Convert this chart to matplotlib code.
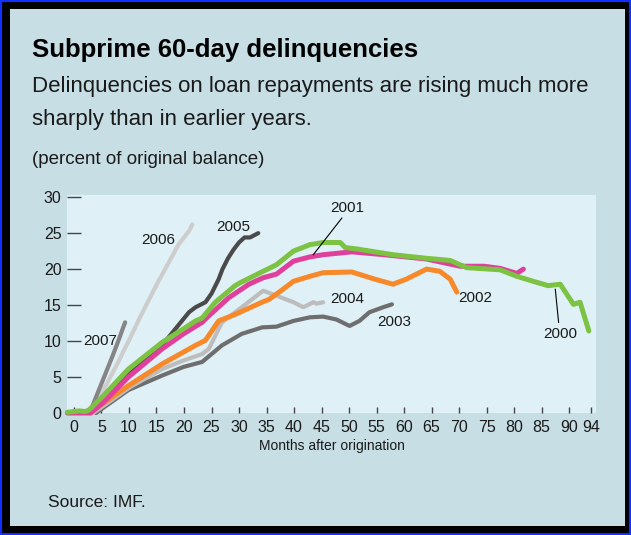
import matplotlib
matplotlib.use("Agg")
import matplotlib.pyplot as plt
from matplotlib.patches import Rectangle

plt.rcParams['font.family'] = ['Liberation Sans', 'DejaVu Sans']

# data (months after origination, percent of original balance)
m2000 = [-1.2, 0, 1, 2, 2.7, 5.1, 9.9, 16, 19.9, 22.1, 23.3, 25.7, 29.3, 30.2, 34.4, 36.8, 39.9,
         42.9, 45.3, 48.4, 49.3, 51.4, 58, 64.1, 68.4, 71.4, 77.5, 80.5, 83.5, 86.2, 88.4,
         89.6, 90.8, 92, 93.6]
v2000 = [0.1, 0.2, 0.3, 0.2, 0.4, 2.2, 6.1, 9.8, 11.7, 12.8, 13.2, 15.4, 17.7, 18.1, 19.7, 20.6, 22.5,
         23.4, 23.7, 23.7, 23.0, 22.8, 22.0, 21.5, 21.2, 20.2, 19.9, 19.0, 18.3, 17.7, 17.9,
         16.5, 15.1, 15.4, 11.4]

m2001 = [-1.2, 1, 3, 5.1, 9.9, 16, 19.9, 23.3, 24.5, 28.1, 31.8, 34.4, 36.8, 39.9, 42.9, 45.3, 50.5,
         56.4, 64.1, 70.2, 74.5, 77.5, 80.5, 81.7]
v2001 = [0.0, 0.0, 0.0, 1.3, 5.0, 8.9, 11.0, 12.6, 13.5, 16.0, 17.9, 18.8, 19.3, 21.1, 21.7, 22.0, 22.4,
         22.0, 21.4, 20.4, 20.4, 20.1, 19.4, 20.0]

m2002 = [3, 3.9, 9.9, 16, 22.1, 23.9, 26.3, 29.3, 34.2, 35.5, 38, 39.9, 42.9, 45.3, 50.5, 54.7,
         58, 60.4, 64.1, 66.5, 68.4, 69.6]
v2002 = [0.0, 0.6, 3.8, 6.8, 9.4, 10.1, 12.8, 13.7, 15.4, 15.8, 17.2, 18.3, 19.0, 19.5, 19.6, 18.6,
         17.9, 18.6, 20.0, 19.7, 18.6, 16.8]

m2003 = [4, 9.9, 16, 19.9, 23.3, 26.9, 30.5, 34.2, 36.8, 39.9, 42.9, 45.3, 47.7, 50.1, 51.9,
         53.7, 56.2, 57.8]
v2003 = [0.0, 3.2, 5.2, 6.4, 7.1, 9.4, 11.0, 11.9, 12.0, 12.8, 13.3, 13.4, 13.0, 12.1, 12.8,
         14.0, 14.7, 15.1]

m2004 = [3.5, 10.2, 16, 19.9, 23.3, 24.5, 26.9, 30.5, 33.2, 34.4, 36.8, 39.9, 41.7, 43.5, 44.1, 45.3]
v2004 = [0.0, 3.6, 6.1, 7.3, 8.2, 8.9, 12.6, 14.7, 16.3, 17.0, 16.3, 15.4, 14.7, 15.4, 15.2, 15.4]

m2005 = [3, 5, 9.9, 16, 20.9, 22.1, 23.9, 25, 26.3, 27, 28, 29, 30, 31, 32, 33, 33.5]
v2005 = [0.2, 1.8, 5.3, 9.4, 14.0, 14.7, 15.4, 16.6, 18.6, 20.0, 21.5, 22.7, 23.7, 24.4, 24.4,
         24.8, 25.0]

m2006 = [3, 4, 5, 6, 7, 8, 9, 10, 11, 12, 13, 14, 15, 16, 17, 18, 19, 20, 21, 21.5]
v2006 = [0.3, 1.5, 2.8, 4.1, 5.6, 7.0, 8.6, 10.1, 11.7, 13.3, 14.8, 16.3, 17.8, 19.2, 20.6, 22.0, 23.4,
         24.4, 25.4, 26.2]

m2007 = [3, 4, 5, 6, 7, 8, 9, 9.3]
v2007 = [0.3, 2.2, 4.1, 6.0, 7.9, 9.9, 12.0, 12.6]

xticks = [0, 5, 10, 15, 20, 25, 30, 35, 40, 45, 50, 55, 60, 65, 70, 75, 80, 85, 90, 94]
yticks = [0, 5, 10, 15, 20, 25, 30]
ytick_labels = ['0', '5', '10', '15', '20', '25', '30']

panel = '#c6dee4'
plot_bg = '#dff1f6'
txt = '#1a1a1a'

fig = plt.figure(figsize=(6.31, 5.35), dpi=100, facecolor='black')

# frame: blue edge, black band, light panel
fig.patches.append(Rectangle((0, 0), 1, 1, transform=fig.transFigure, facecolor='none',
                             edgecolor='#1030ff', linewidth=3, zorder=-10))
fig.patches.append(Rectangle((10 / 631, 9 / 535), 615 / 631, 517 / 535, transform=fig.transFigure,
                             facecolor=panel, edgecolor='none', zorder=-10))

ax = fig.add_axes([67 / 631, 1 - 413 / 535, 529 / 631, 218 / 535])
ax.set_facecolor(plot_bg)
for s in ax.spines.values():
    s.set_visible(False)

lw_c = 3.6
lw_g = 3.0
ax.plot(m2003, v2003, color='#6e6e6e', lw=lw_g, clip_on=False, solid_capstyle='round')
ax.plot(m2004, v2004, color='#bdbdbd', lw=lw_g, clip_on=False, solid_capstyle='round')
ax.plot(m2002, v2002, color='#f7892b', lw=lw_c, clip_on=False, solid_capstyle='round')
ax.plot(m2006, v2006, color='#cdcdcd', lw=lw_g, clip_on=False, solid_capstyle='round')
ax.plot(m2005, v2005, color='#4a4a4a', lw=lw_g, clip_on=False, solid_capstyle='round')
ax.plot(m2007, v2007, color='#858585', lw=lw_g, clip_on=False, solid_capstyle='round')
ax.plot(m2001, v2001, color='#e0409c', lw=lw_c, clip_on=False, solid_capstyle='round')
ax.plot(m2000, v2000, color='#7cc243', lw=lw_c, clip_on=False, solid_capstyle='round')

ax.set_xlim(-1.27, 94.9)
ax.set_ylim(0.2, 30.3)
ax.set_xticks(xticks)
ax.set_xticklabels([str(t) for t in xticks])
ax.set_yticks(yticks)
ax.set_yticklabels(ytick_labels)
ax.tick_params(axis='x', direction='in', length=4, width=1, color='#444444', pad=5,
               labelsize=11.5, labelcolor=txt)
ax.tick_params(axis='y', direction='in', length=10, width=1, color='#444444', pad=4,
               labelsize=11.5, labelcolor=txt)

# series labels
lab_kw = dict(fontsize=11, color=txt, ha='center', va='center')
ax.text(1.6, 10.0, '2007', fontsize=11, color=txt, ha='left', va='center')
ax.text(15.3, 24.1, '2006', **lab_kw)
ax.text(29, 25.9, '2005', **lab_kw)
ax.text(49.6, 28.5, '2001', **lab_kw)
ax.text(49.6, 15.9, '2004', **lab_kw)
ax.text(58.2, 12.6, '2003', **lab_kw)
ax.text(73, 16.0, '2002', **lab_kw)
ax.text(88.4, 11.0, '2000', **lab_kw)
ax.plot([48.7, 43.5], [27.1, 22.0], color='black', lw=0.8)
ax.plot([87.5, 88.1], [17.2, 12.6], color='black', lw=0.8)

ax.set_xlabel('Months after origination', fontsize=10, color=txt, labelpad=3)

fig.text(32 / 631, 1 - 57 / 535, 'Subprime 60-day delinquencies', fontsize=18.5, fontweight='bold',
         color='black', va='baseline')
fig.text(32 / 631, 1 - 92 / 535, 'Delinquencies on loan repayments are rising much more',
         fontsize=16, color=txt, va='baseline')
fig.text(32 / 631, 1 - 125 / 535, 'sharply than in earlier years.', fontsize=16, color=txt,
         va='baseline')
fig.text(32 / 631, 1 - 164 / 535, '(percent of original balance)', fontsize=13.5, color=txt,
         va='baseline')
fig.text(48 / 631, 1 - 507 / 535, 'Source: IMF.', fontsize=12.5, color=txt, va='baseline')

fig.savefig('out.png', dpi=100, facecolor=fig.get_facecolor())
